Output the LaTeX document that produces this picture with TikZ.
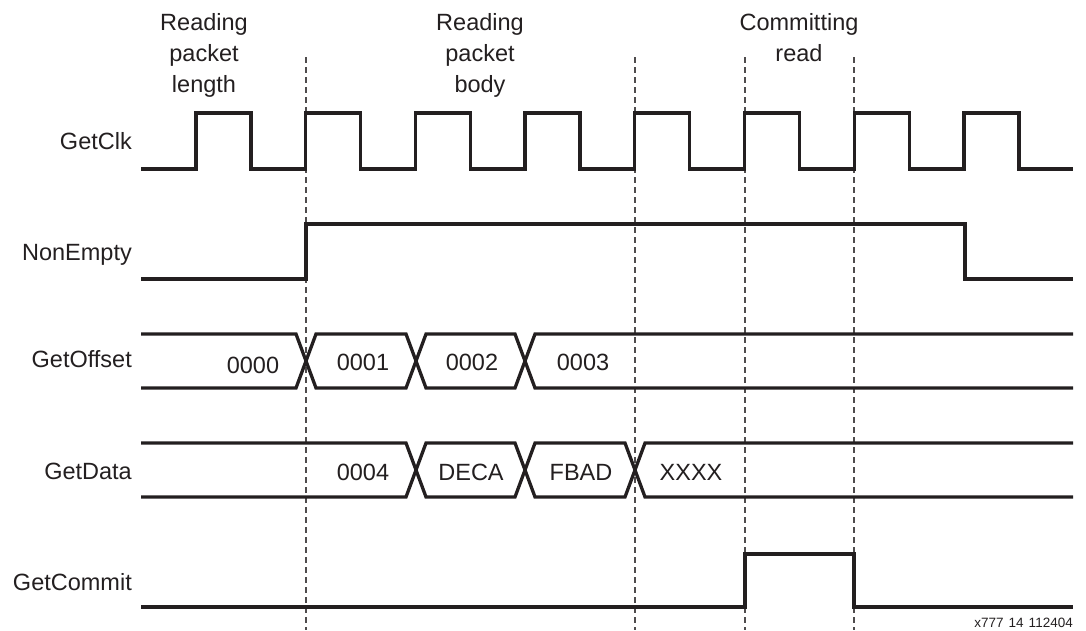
\documentclass[tikz,border=0pt]{standalone}
\usepackage{fontspec}
\setmainfont{Liberation Sans}
\usetikzlibrary{positioning}

\definecolor{ink}{RGB}{35,31,32}

\begin{document}
\begin{tikzpicture}[x=1pt, y=-1pt,
	wave/.style={draw=ink, line width=3.3pt},
	marker/.style={draw=ink!80, line width=1.1pt, dash pattern=on 6pt off 4pt},
	sig/.style={anchor=base east, inner sep=0pt, text=ink, font=\fontsize{23.5}{28}\selectfont},
	val/.style={anchor=base, inner sep=0pt, text=ink, font=\fontsize{23.5}{28}\selectfont},
	phase/.style={anchor=north, inner sep=0pt, align=center, text=ink, font=\fontsize{23.5}{31}\selectfont}]

	\useasboundingbox (0,0) rectangle (1086,630);

	% phases
	\node[phase] (len) at (204,13) {Reading\\packet\\length};
	\node[phase] (body) at (480,13) {Reading\\packet\\body};
	\node[phase] (commitread) at (799,13) {Committing\\read};

	\foreach \x in {306,635,745,854}
		\draw[marker] (\x,57) -- (\x,630);

	% signal names
	\node[sig] (clk) at (132,149) {GetClk};
	\node[sig] (nonempty) at (132,260) {NonEmpty};
	\node[sig] (offset) at (132,367) {GetOffset};
	\node[sig] (data) at (132,479) {GetData};
	\node[sig] (commit) at (132,590) {GetCommit};

	% GetClk
	\draw[wave] (141,169) foreach \i in {0,...,7} {
		-- ({196+109.7*\i},169) -- ++(0,-56) -- ++(55,0) -- ++(0,56) } -- (1073,169);

	% NonEmpty
	\draw[wave] (141,279) -- (306,279) -- (306,224) -- (965,224) -- (965,279) -- (1073,279);

	% GetOffset
	\draw[wave] (141,334) -- (296,334) -- (316,388) -- (406,388) -- (426,334) -- (515,334) -- (535,388) -- (1073,388);
	\draw[wave] (141,388) -- (296,388) -- (316,334) -- (406,334) -- (426,388) -- (515,388) -- (535,334) -- (1073,334);
	\node[val] (off0) at (253,373) {0000};
	\node[val] (off1) at (363,370) {0001};
	\node[val] (off2) at (472,370) {0002};
	\node[val] (off3) at (583,370) {0003};

	% GetData
	\draw[wave] (141,443) -- (406,443) -- (426,497) -- (515,497) -- (535,443) -- (625,443) -- (645,497) -- (1073,497);
	\draw[wave] (141,497) -- (406,497) -- (426,443) -- (515,443) -- (535,497) -- (625,497) -- (645,443) -- (1073,443);
	\node[val] (dat0) at (363,480) {0004};
	\node[val] (dat1) at (471,480) {DECA};
	\node[val] (dat2) at (581,480) {FBAD};
	\node[val] (dat3) at (691,480) {XXXX};

	% GetCommit
	\draw[wave] (141,607) -- (745,607) -- (745,554) -- (854,554) -- (854,607) -- (1073,607);

	\node[anchor=base east, inner sep=0pt, text=ink, font=\fontsize{13.5}{16}\selectfont] (fig) at (1073,627) {x777\hspace{5pt}14\hspace{5pt}112404};

\end{tikzpicture}
\end{document}
